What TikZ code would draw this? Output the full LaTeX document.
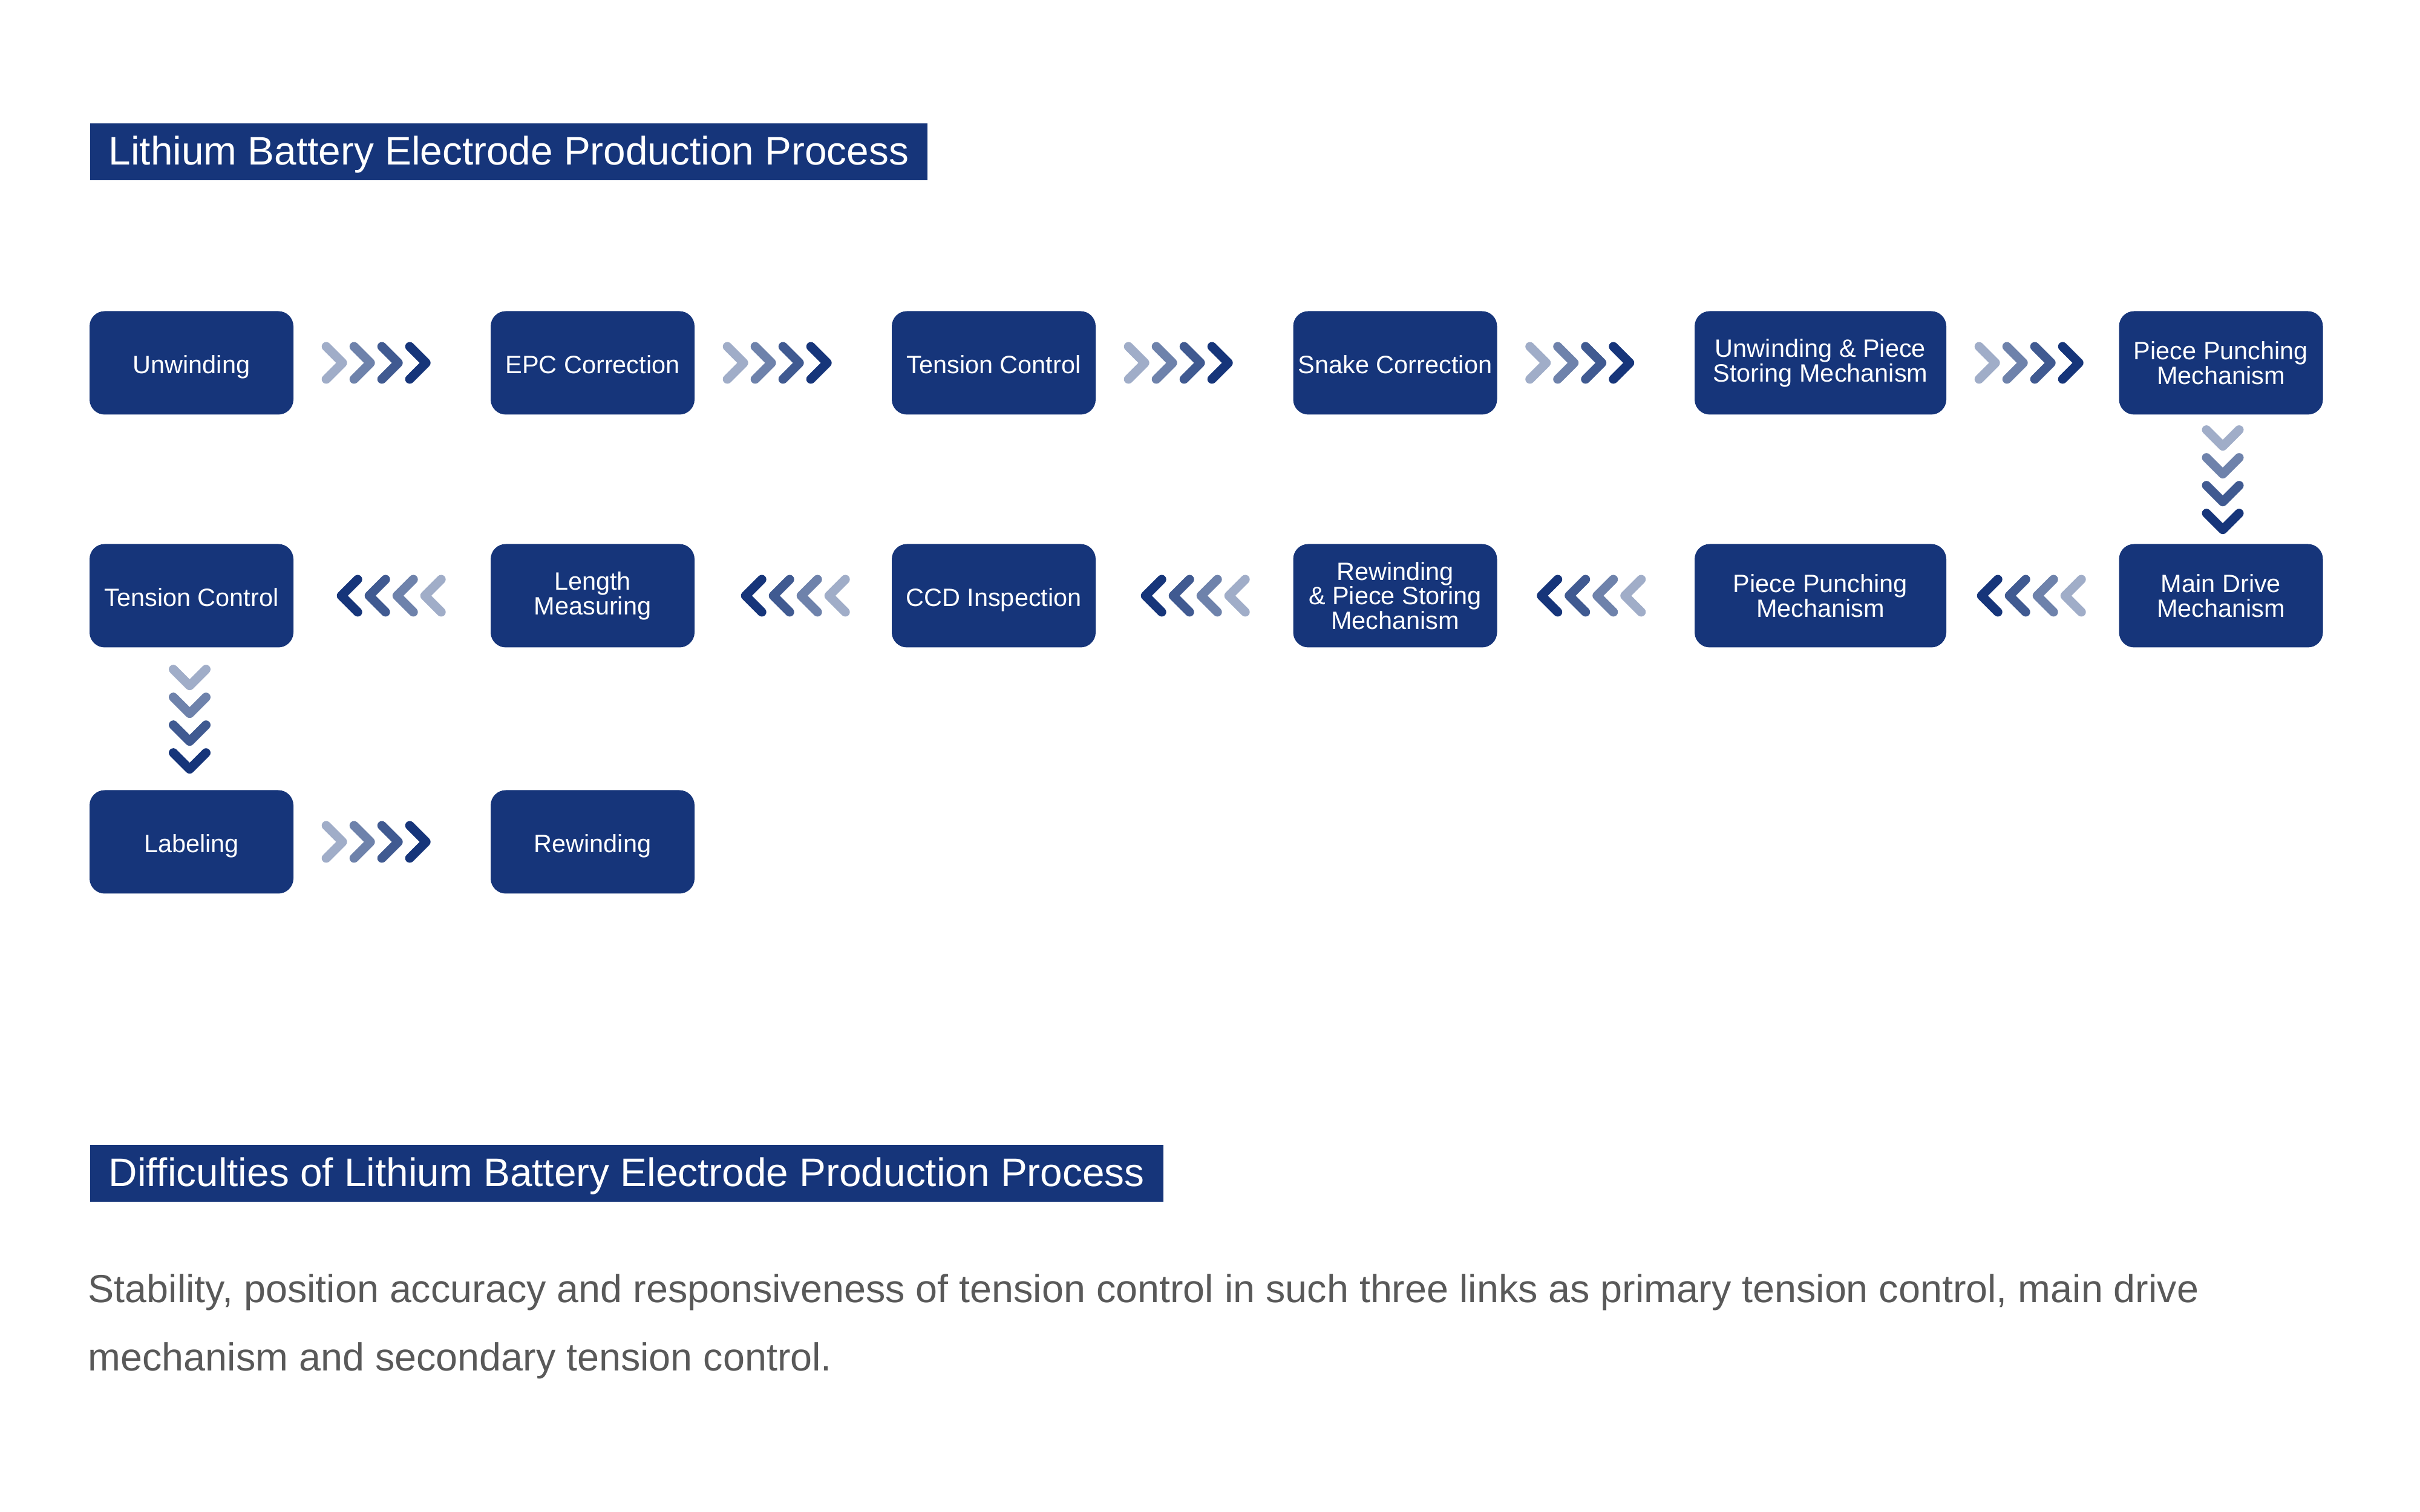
\documentclass[tikz,border=0pt]{standalone}
\usepackage{fontspec}
\setmainfont{Liberation Sans}
\usetikzlibrary{calc}
\definecolor{boxblue}{HTML}{16357A}
\definecolor{chevA}{HTML}{A0ADC8}
\definecolor{chevB}{HTML}{6E82AB}
\definecolor{chevC}{HTML}{405A91}
\definecolor{chevD}{HTML}{16357A}
\definecolor{bodygray}{HTML}{595959}
\tikzset{
  stepbox/.style={rectangle, rounded corners=0.25cm, fill=boxblue, text=white,
    minimum width=3.37cm, minimum height=1.71cm, inner sep=0pt, align=center,
    font=\fontsize{11.8}{11.6}\selectfont},
  oneline/.style={text height=9.8pt, text depth=0pt},
  widebox/.style={stepbox, minimum width=4.16cm},
  heading/.style={fill=boxblue, text=white, anchor=west, inner xsep=0.31cm, inner ysep=0pt,
    minimum height=0.94cm, text height=13.5pt, text depth=1.2pt,
    font=\fontsize{18.7}{20}\selectfont},
  chev/.style={line width=0.15cm, line cap=round, line join=round}
}
\begin{document}
\begin{tikzpicture}[x=1cm,y=1cm]
\useasboundingbox (0,0) rectangle (40,25);
\node[heading] (head1) at (1.48,22.49) {Lithium Battery Electrode Production Process};
\node[heading] (head2) at (1.48,5.60) {Difficulties of Lithium Battery Electrode Production Process};
\node[anchor=north west, inner sep=0pt, align=left, text=bodygray,
  font=\fontsize{18.4}{32}\selectfont] (body) at (1.45,3.94)
  {Stability, position accuracy and responsiveness of tension control in such three links as primary tension control, main drive\\
   mechanism and secondary tension control.};
% first row
\node[stepbox,oneline] (unw) at (3.165,19.0) {Unwinding};
\node[stepbox,oneline] (epc) at (9.795,19.0) {EPC Correction};
\node[stepbox,oneline] (tens1) at (16.425,19.0) {Tension Control};
\node[stepbox,oneline] (snake) at (23.06,19.0) {Snake Correction};
\node[widebox] (store) at (30.09,19.0) {Unwinding \& Piece\\Storing Mechanism};
\node[stepbox] (punch1) at (36.71,19.0) {Piece Punching\\Mechanism};
% second row
\node[stepbox,oneline] (tens2) at (3.165,15.15) {Tension Control};
\node[stepbox] (len) at (9.795,15.15) {Length\\Measuring};
\node[stepbox,oneline] (ccd) at (16.425,15.15) {CCD Inspection};
\node[stepbox] (rewd) at (23.06,15.15) {Rewinding\\\& Piece Storing\\Mechanism};
\node[widebox] (punch2) at (30.09,15.15) {Piece Punching\\Mechanism};
\node[stepbox] (drive) at (36.71,15.15) {Main Drive\\Mechanism};
% third row
\node[stepbox,oneline] (label) at (3.165,11.08) {Labeling};
\node[stepbox,oneline] (rewind) at (9.795,11.08) {Rewinding};
% chevrons
\foreach \a in {unw,epc,tens1,snake,store,label}
  \foreach \i/\c in {0/chevA,1/chevB,2/chevC,3/chevD}
    \draw[chev,\c] ($(\a.east)+(0.535+0.46*\i,0.27)$) -- ++(0.27,-0.27) -- ++(-0.27,-0.27);
\foreach \a/\d in {tens2/0.71,len/0.76,ccd/0.74,rewd/0.65,punch2/0.50}
  \foreach \i/\c in {0/chevD,1/chevC,2/chevB,3/chevA}
    \draw[chev,\c] ($(\a.east)+(\d+0.345+0.46*\i,0.27)$) -- ++(-0.27,-0.27) -- ++(0.27,-0.27);
\foreach \i/\c in {0/chevA,1/chevB,2/chevC,3/chevD} {
  \draw[chev,\c] ($(punch1.south)+(-0.24,-0.245-0.46*\i)$) -- ++(0.27,-0.27) -- ++(0.27,0.27);
  \draw[chev,\c] ($(tens2.south)+(-0.3,-0.355-0.46*\i)$) -- ++(0.27,-0.27) -- ++(0.27,0.27);
}
\end{tikzpicture}
\end{document}
